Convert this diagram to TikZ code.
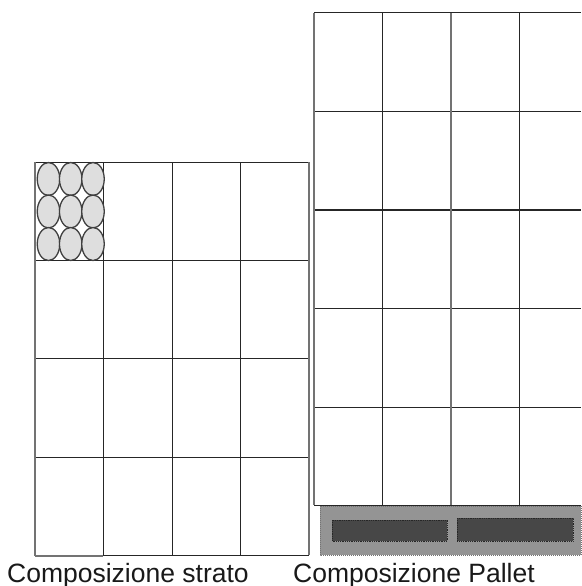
\documentclass[tikz,border=0pt]{standalone}
\usepackage{fontspec}
\setmainfont{Liberation Sans}
\usetikzlibrary{shapes.geometric}
\tikzset{
  gridline/.style={draw=black!85,line width=1pt},
  softline/.style={draw=black!55,line width=1.1pt},
  heavyline/.style={draw=black!85,line width=1.6pt},
  can/.style={draw=black!75,fill=black!13,line width=1.3pt,ellipse,minimum width=22.5pt,minimum height=33pt,inner sep=0pt},
  caption/.style={anchor=base west,inner sep=0pt,font=\fontsize{26.5}{30}\selectfont,text=black!90},
  palletbase/.style={fill=black!42,draw=black!55,densely dotted,line width=1pt},
  palletboard/.style={fill=black!72,draw=black!85,densely dotted,line width=.8pt}
}
\begin{document}
\begin{tikzpicture}[x=1pt,y=-1pt]
\useasboundingbox (0,0) rectangle (581,586);
\fill[white] (0,0) rectangle (581,586);
% right stack
\foreach \y in {13,111,308,407,505} \draw[gridline] (314,\y) -- (581,\y);
\draw[heavyline] (314,210) -- (581,210);
\foreach \x in {382,519} \draw[gridline] (\x,13) -- (\x,505);
\foreach \x in {314,451} \draw[softline] (\x,13) -- (\x,505);
% pallet
\path[palletbase] (320,506) rectangle (581,555);
\path[palletboard] (332,520) rectangle (447,541);
\path[palletboard] (457,518) rectangle (573,541);
% left layer
\foreach \y in {162,260,358,457} \draw[gridline] (35,\y) -- (309,\y);
\draw[gridline] (103,555) -- (309,555);
\draw[softline] (35,556) -- (103,556);
\foreach \x in {103,172,240} \draw[gridline] (\x,162) -- (\x,555);
\draw[softline] (309,162) -- (309,555);
\draw[softline] (35,162) -- (35,556);
% cans
\foreach \cx/\n in {48.5/a,70.7/b,93/c}
  \foreach \cy/\m in {179/1,211.5/2,244/3}
    \node[can] (can\n\m) at (\cx,\cy) {};
\node[caption] (capa) at (7,582.5) {Composizione strato};
\node[caption] (capb) at (293,582.5) {Composizione Pallet};
\end{tikzpicture}
\end{document}
